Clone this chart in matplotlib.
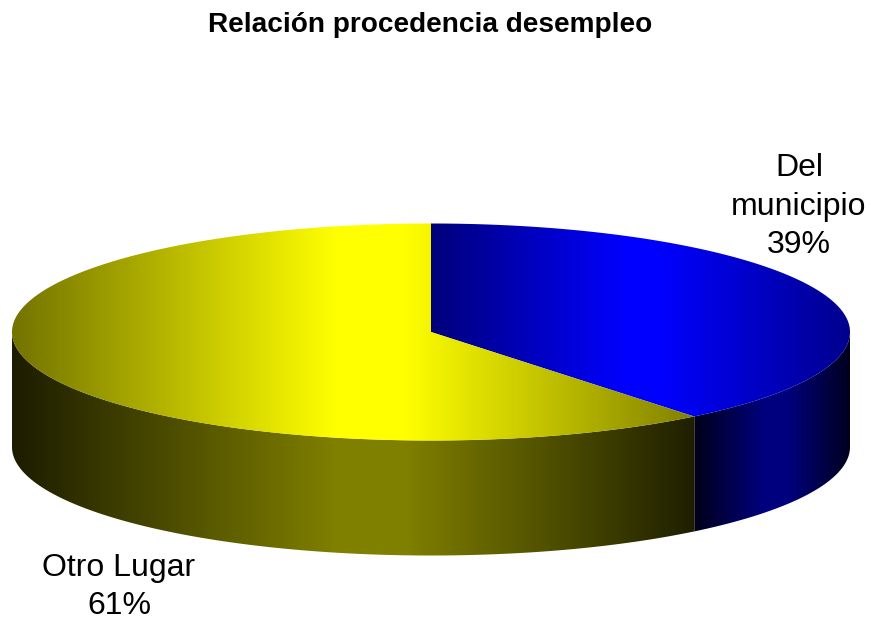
import matplotlib.pyplot as plt
import numpy as np
from matplotlib.patches import Polygon

plt.rcParams['font.family'] = ['Liberation Sans', 'DejaVu Sans']

# Data
title = 'Relación procedencia desempleo'
labels = ['Del\nmunicipio\n39%', 'Otro Lugar\n61%']
shares = [39.2, 60.8]
base_colors = [(0, 0, 1), (1, 1, 0)]

# Shading: (pixel x, brightness) along each slice
top_shade = [([431, 625, 660, 850], [0.48, 1, 1, 0.55]),
             ([12, 335, 405, 695], [0.45, 1, 1, 0.5])]
side_shade = [([695, 765, 785, 850], [0.11, 0.5, 0.5, 0.12]),
              ([12, 335, 405, 695], [0.11, 0.5, 0.5, 0.12])]
label_pos = [(799, 206.5), (119, 587)]

# Pie geometry in pixels
cx, cy = 431, 332
rx, ry = 419, 108.5
depth = 115


def ellipse(a, dy=0):
    # angle counted clockwise from 12 o'clock
    a = np.radians(a)
    return cx + rx*np.sin(a), cy - ry*np.cos(a) + dy


def shaded(ax, verts, color, stops):
    xs = np.arange(0, 872)
    b = np.interp(xs, stops[0], stops[1])
    img = np.array(color)[None, None, :]*b[None, :, None]
    im = ax.imshow(img, extent=(0, 871, 621, 0), aspect='auto',
                   interpolation='bilinear', zorder=2)
    p = Polygon(verts, closed=True, transform=ax.transData, fc='none', ec='none')
    ax.add_patch(p)
    im.set_clip_path(p)


fig = plt.figure(figsize=(8.71, 6.21), dpi=100)
ax = fig.add_axes([0, 0, 1, 1])

start = 0
for share, col, ts, ss in zip(shares, base_colors, top_shade, side_shade):
    end = start + share*3.6
    # Side wall, only the part facing the viewer
    a0, a1 = max(start, 90), min(end, 270)
    if a1 > a0:
        t = np.linspace(a0, a1, 300)
        x, y = ellipse(t)
        xb, yb = ellipse(t, depth)
        shaded(ax, np.column_stack([np.r_[x, xb[::-1]], np.r_[y, yb[::-1]]]), col, ss)
    # Top face
    t = np.linspace(start, end, 400)
    x, y = ellipse(t)
    shaded(ax, np.column_stack([np.r_[cx, x], np.r_[cy, y]]), col, ts)
    start = end

# Seam between the two side walls
sx, sy = ellipse(shares[0]*3.6)
ax.plot([sx, sx], [sy, sy + depth], color='#8a8a60', lw=0.5, alpha=0.7, zorder=3)

ax.set_xlim(0, 871)
ax.set_ylim(621, 0)
ax.axis('off')

ax.text(430, 25, title, ha='center', va='center', fontsize=20.2, fontweight='bold')
for lab, pos in zip(labels, label_pos):
    ax.text(pos[0], pos[1], lab, ha='center', va='center', ma='center',
            fontsize=23, linespacing=1.38)

plt.savefig('out.png', dpi=100)
